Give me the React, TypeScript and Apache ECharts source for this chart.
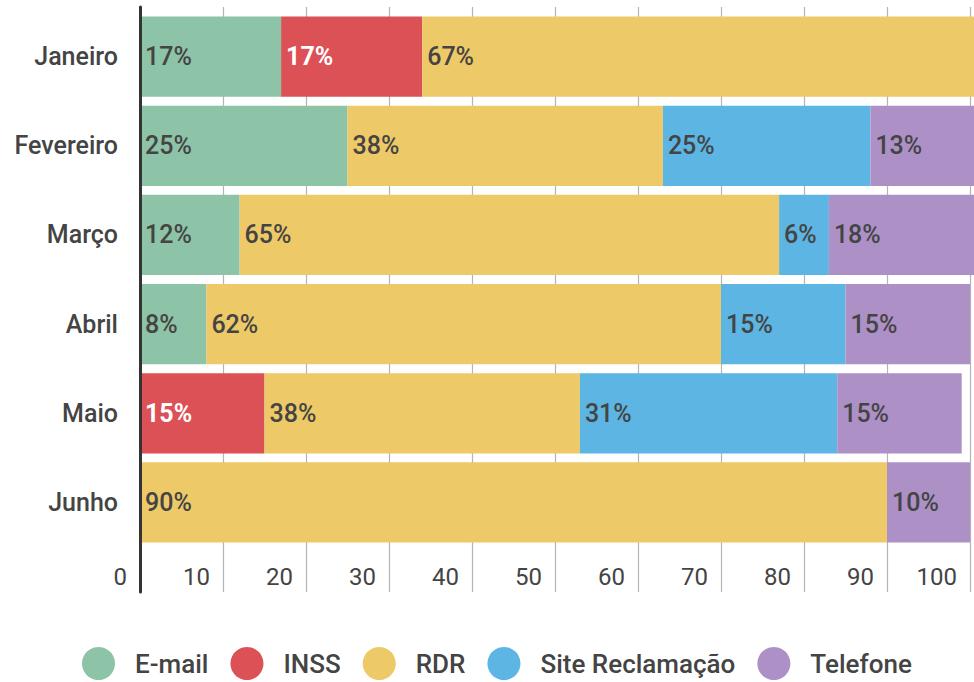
import React, { useEffect, useRef } from "react";
import * as echarts from "echarts";

const months = ["Janeiro", "Fevereiro", "Março", "Abril", "Maio", "Junho"];
const seriesNames = ["E-mail", "INSS", "RDR", "Site Reclamação", "Telefone"];
const emailValues = [17, 25, 12, 8, null, null];
const inssValues = [17, null, null, null, 15, null];
const rdrValues = [67, 38, 65, 62, 38, 90];
const siteValues = [null, 25, 6, 15, 31, null];
const telefoneValues = [null, 13, 18, 15, 15, 10];
const colors = ["#8dc3a7", "#dc5155", "#eec967", "#5cb5e3", "#ac90c6"];
const labelColors = ["#444", "#fff", "#444", "#444", "#444"];

const FONT = "Roboto, 'Noto Sans', sans-serif";

export default function App() {
  const ref = useRef<HTMLDivElement>(null);
  useEffect(() => {
    if (!ref.current) return;
    const chart = echarts.init(ref.current, null, { renderer: "svg" });
    const allValues = [emailValues, inssValues, rdrValues, siteValues, telefoneValues];
    const series = seriesNames.map((name, i) => ({
      name,
      type: "bar",
      stack: "total",
      xAxisIndex: 0,
      yAxisIndex: 0,
      barCategoryGap: "10%",
      clip: false,
      data: allValues[i],
      itemStyle: { color: colors[i] },
      label: {
        show: true,
        position: "insideLeft",
        distance: 5,
        formatter: "{c}%",
        fontFamily: FONT,
        fontSize: 25,
        fontWeight: i === 1 ? "bold" : 500,
        color: labelColors[i],
      },
      z: 2,
    }));
    chart.setOption({
      animation: false,
      color: colors,
      textStyle: { fontFamily: FONT },
      grid: [
        { left: 140, right: 4, top: 12, bottom: 135 },
        { left: 140, right: 4, top: 7, bottom: 90 },
      ],
      xAxis: [
        { type: "value", gridIndex: 0, min: 0, max: 100, show: false },
        {
          type: "value",
          gridIndex: 1,
          min: 0,
          max: 100,
          interval: 10,
          axisLine: { show: false },
          axisTick: { show: false },
          splitLine: { show: true, lineStyle: { color: "#b4b4b4", width: 1.2 } },
          axisLabel: {
            inside: true,
            margin: 15,
            align: "right",
            verticalAlign: "middle",
            padding: [0, 13, 0, 0],
            fontFamily: FONT,
            fontSize: 24,
            color: "#444",
          },
        },
      ],
      yAxis: [
        {
          type: "category",
          gridIndex: 0,
          data: months,
          inverse: true,
          axisLine: { show: false },
          axisTick: { show: false },
          axisLabel: {
            margin: 22,
            fontFamily: FONT,
            fontSize: 25,
            fontWeight: 500,
            color: "#444",
          },
        },
        {
          type: "value",
          gridIndex: 1,
          z: 10,
          axisLine: { show: true, lineStyle: { color: "#333", width: 3 } },
          axisTick: { show: false },
          axisLabel: { show: false },
          splitLine: { show: false },
        },
      ],
      legend: {
        top: 642,
        left: 77,
        icon: "circle",
        itemWidth: 33,
        itemHeight: 33,
        itemGap: 22,
        data: seriesNames,
        textStyle: {
          fontFamily: FONT,
          fontSize: 26,
          fontWeight: 500,
          color: "#444",
          padding: [0, 0, 0, 15],
        },
      },
      series,
    });
    return () => chart.dispose();
  }, []);
  return (
    <div
      ref={ref}
      style={{ position: "fixed", left: 0, top: 0, width: 974, height: 682, background: "#fff" }}
    />
  );
}
